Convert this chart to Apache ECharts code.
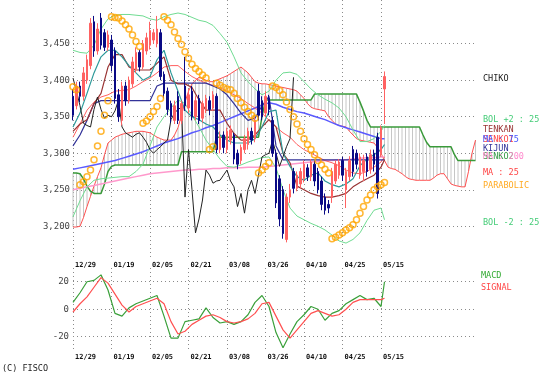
<!DOCTYPE html>
<html><head><meta charset="utf-8">
<script src="https://cdn.jsdelivr.net/npm/echarts@6/dist/echarts.min.js"></script>
<style>html,body{margin:0;padding:0;background:#fff}#c{width:554px;height:382px}</style>
</head><body><div id="c"></div>
<script>
// ---------- DATA ----------
const dateLabels = ['12/29','01/19','02/05','02/21','03/08','03/26','04/10','04/25','05/15'];
const priceTicks = [3200,3250,3300,3350,3400,3450];
const macdTicks = [-20,0,20];

const opens  = [3378,3365,3392,3378,3400,3420,3480,3440,3485,3465,3445,3455,3440,3380,3345,3392,3372,3395,3415,3438,3418,3440,3448,3455,3450,3465,3408,3385,3368,3345,
                3378,3345,3392,3362,3385,3350,3375,3348,3360,3372,3362,3378,3305,3325,3305,3318,3325,3300,3290,3305,3312,3330,3320,3385,3372,3355,3375,3345,3300,3265,
                3250,3182,3240,3275,3252,3258,3265,3280,3268,3285,3275,3262,3240,3230,3240,3262,3270,3290,3250,3268,3305,3300,3270,3275,3295,3278,3300,3322,3300,3388];
const closes = [3352,3392,3378,3410,3428,3478,3440,3470,3448,3445,3462,3420,3375,3350,3392,3372,3400,3425,3438,3418,3450,3458,3468,3465,3470,3405,3382,3360,3350,3365,
                3345,3368,3365,3380,3350,3372,3345,3368,3375,3360,3380,3305,3322,3308,3330,3332,3292,3285,3308,3320,3330,3318,3345,3352,3350,3378,3360,3300,3232,3210,
                3190,3240,3250,3252,3270,3275,3285,3268,3288,3262,3250,3230,3222,3225,3275,3285,3288,3270,3275,3290,3275,3285,3295,3290,3275,3298,3285,3245,3335,3405];
const lows   = [3345,3360,3370,3372,3395,3415,3432,3435,3442,3440,3440,3412,3368,3343,3338,3365,3368,3390,3410,3412,3415,3435,3442,3450,3445,3400,3375,3352,3342,3340,
                3340,3340,3358,3355,3345,3345,3340,3342,3355,3352,3358,3300,3300,3300,3300,3312,3285,3278,3285,3300,3305,3312,3315,3345,3345,3350,3352,3295,3225,3200,
                3183,3178,3232,3245,3248,3252,3260,3262,3262,3255,3245,3222,3216,3218,3232,3258,3265,3262,3225,3262,3268,3278,3265,3262,3268,3272,3275,3238,3295,3340];
const highs  = [3388,3398,3398,3418,3435,3485,3488,3478,3492,3470,3468,3462,3445,3388,3398,3398,3405,3432,3445,3442,3455,3465,3480,3470,3488,3470,3412,3390,3372,3372,
                3385,3372,3432,3388,3392,3378,3380,3372,3380,3378,3385,3382,3330,3330,3335,3338,3328,3305,3312,3325,3335,3335,3350,3395,3378,3385,3380,3350,3305,3270,
                3255,3245,3258,3280,3275,3280,3290,3285,3292,3290,3280,3268,3245,3236,3280,3290,3292,3295,3280,3296,3310,3305,3300,3298,3300,3305,3305,3328,3338,3412];

// Ichimoku cloud spans (incl. 26 future bars)
const senko1 = [3199,3199,3200,3212,3227,3241,3255,3268,3280,3298,
  3314,3318,3322,3324,3326,3327,3328,3329,3330,3330,
  3330,3329,3328,3325,3322,3320,3318,3318,3318,3325,
  3335,3352,3370,3385,3395,3400,3404,3402,3400,3398,
  3398,3400,3402,3404,3406,3409,3412,3415,3418,3414,
  3410,3404,3398,3396,3395,3395,3394,3393,3392,3391,
  3390,3389,3388,3387,3385,3380,3375,3368,3363,3361,
  3360,3359,3358,3350,3345,3340,3338,3337,3336,3330,
  3325,3320,3318,3317,3316,3315,3314,3308,3300,3290,
  3281,3279,3278,3275,3272,3268,3265,3264,3263,3263,
  3263,3263,3263,3266,3270,3272,3272,3265,3258,3256,
  3255,3254,3254,3275,3300,3318];
const senko2 = [3273,3273,3272,3265,3255,3248,3245,3245,3245,3258,
  3275,3282,3284,3284,3284,3284,3284,3284,3284,3284,
  3284,3284,3284,3284,3284,3284,3284,3284,3284,3284,
  3284,3302,3302,3302,3302,3302,3302,3302,3302,3302,
  3302,3322,3322,3322,3322,3322,3322,3322,3322,3322,
  3322,3322,3322,3322,3350,3373,3373,3373,3373,3373,
  3373,3373,3373,3373,3373,3373,3373,3373,3373,3381,
  3381,3381,3381,3381,3381,3381,3381,3381,3381,3381,
  3381,3381,3370,3358,3345,3336,3336,3336,3336,3336,
  3336,3336,3336,3336,3336,3336,3336,3336,3336,3336,
  3325,3315,3309,3309,3309,3309,3309,3309,3309,3298,
  3290,3290,3290,3290,3290,3290];

// line values read at bars 0,2,4,...,88 and 89
const bolUp = [3441,3438,3437,3448,3470,3484,3489,3490,3490,3489, 3488,3484,3482,3487,3490,3492,3490,3486,3482,3480,
               3475,3464,3452,3432,3410,3398,3388,3380,3385,3400, 3410,3411,3408,3398,3388,3380,3374,3369,3362,3350, 3332,3316,3316,3320,3330, 3338];
const bolDn = [3213,3235,3254,3263,3265,3266,3267,3268,3268,3275, 3285,3310,3336,3350,3362,3373,3368,3352,3336,3318,
               3305,3292,3282,3281,3284,3288,3291,3294,3295,3280, 3250,3225,3214,3209,3204,3200,3195,3188,3180,3177, 3182,3191,3208,3222,3225, 3209];
const ma25  = [3322,3340,3359,3370,3377,3380,3385,3386,3387,3392, 3398,3403,3410,3418,3420,3420,3412,3405,3400,3396,
               3393,3390,3385,3380,3375,3368,3362,3355,3345,3336, 3328,3322,3312,3305,3300,3295,3290,3287,3283,3277, 3273,3272,3275,3281,3288, 3295];
const ma75  = [3278,3280,3282,3284,3286,3288,3290,3293,3296,3299, 3302,3306,3310,3314,3317,3320,3324,3328,3331,3335,
               3338,3342,3346,3350,3354,3358,3362,3366,3369,3367, 3363,3360,3357,3355,3352,3349,3346,3342,3338,3335, 3332,3329,3326,3323,3320, 3320];
const ma200 = [3250,3252,3254,3256,3258,3260,3262,3264,3266,3268, 3270,3272,3273,3274,3275,3276,3277,3277,3278,3278,
               3279,3279,3280,3280,3280,3281,3281,3281,3282,3283, 3284,3285,3286,3287,3288,3289,3290,3290,3291,3291, 3292,3293,3294,3294,3295, 3295];
const tenkan = [3330,3340,3346,3368,3382,3418,3435,3435,3418,3414, 3414,3414,3423,3432,3400,3395,3395,3390,3373,3359,
                3359,3359,3341,3327,3318,3318,3325,3336,3346,3336, 3300,3287,3255,3250,3245,3242,3240,3240,3242,3245, 3254,3260,3265,3270,3281, 3291];
const kijun = [3310,3325,3345,3368,3372,3372,3372,3372,3372,3372, 3372,3372,3392,3396,3396,3396,3396,3396,3396,3396,
               3392,3388,3380,3368,3355,3345,3348,3365,3378,3310, 3291,3291,3291,3291,3291,3291,3291,3291,3291,3291, 3291,3291,3291,3291,3291, 3291];
const tealLine = [3336,3355,3382,3410,3432,3441,3441,3432,3420,3410, 3400,3405,3428,3441,3410,3385,3359,3350,3346,3340,
                  3336,3325,3318,3314,3314,3314,3320,3336,3357,3359, 3300,3282,3268,3263,3270,3273,3262,3257,3254,3258, 3265,3283,3292,3298,3305, 3312];
const macd   = [5,12,20,21,25,14,-3,-5,1,4, 6,8,10,-5,-21,-21,-9,-8,-7,1,
                -6,-10,-9,-11,-9,-4,5,10,2,-17, -28,-18,-9,-4,2,0,-8,-3,-1,4, 7,10,7,8,2, 20];
const signal = [-2,4,9,16,23,19,11,3,-2,2, 4,6,8,4,-9,-18,-16,-11,-8,-5,
                -4,-6,-9,-10,-9,-7,-3,4,5,-5, -15,-21,-15,-9,-3,-1,-3,-5,-4,0, 5,7,7,7,7, 8];

// lagging span (bars 0..63)
const chiko = [3403,3385,3365,3341,3338,3336,3360,3377,3360,3348,
  3352,3350,3358,3373,3336,3328,3325,3322,3326,3328,
  3322,3315,3305,3300,3305,3309,3314,3318,3346,3355,
  3360,3363,3240,3305,3250,3191,3210,3236,3277,3270,
  3259,3262,3263,3270,3277,3262,3254,3227,3245,3218,
  3250,3263,3245,3270,3295,3298,3300,3318,3300,3282,
  3295,3309,3320,3404];

// parabolic SAR (bars 0..89)
const sar = [3391,3387,3257,3261,3268,3277,3291,3310,3330,3352,
  3372,3487,3486,3485,3481,3476,3470,3462,3453,3446,
  3341,3344,3350,3357,3364,3375,3487,3482,3476,3466,
  3457,3449,3439,3430,3422,3416,3412,3407,3403,3305,
  3309,3396,3393,3390,3388,3387,3382,3375,3369,3363,
  3357,3352,3348,3273,3277,3282,3287,3392,3390,3386,
  3380,3370,3360,3350,3340,3330,3320,3312,3305,3298,
  3290,3284,3278,3273,3183,3185,3188,3191,3195,3198,
  3202,3209,3218,3227,3236,3243,3250,3254,3257,3260];

// ---------- BUILD ----------
const N = senko1.length;            // bars incl. future cloud
const cats = Array.from({length: N}, (_, i) => String(i));
const lineIdx = Array.from({length: 45}, (_, k) => 2 * k).concat([89]);
const pairs = vals => vals.map((v, k) => [lineIdx[k], v]);
const showTick = idx => idx % 11 === 0 && idx / 11 < dateLabels.length;
const fmtDate = (v, idx) => showTick(idx) ? dateLabels[idx / 11] : '';
const fmtPrice = v => String(v).replace(/\B(?=(\d{3})+(?!\d))/g, ',');
const gridLine = {show: true, lineStyle: {type: [1, 3], color: '#8a8a8a', width: 1}};
const MONO = 'DejaVu Sans Mono';

function xAx(gi) {
  return {type: 'category', gridIndex: gi, data: cats, boundaryGap: false,
    axisLine: {show: false}, axisTick: {show: false},
    axisLabel: {interval: showTick, formatter: fmtDate, align: 'left', margin: gi === 0 ? 4 : 2,
      padding: [0, 0, 0, 2], fontSize: 7, fontWeight: 'bold', fontFamily: MONO, color: '#111'},
    splitLine: Object.assign({interval: showTick}, gridLine)};
}
function yAx(gi, min, max, ticks, fmt, fs, margin) {
  return {type: 'value', gridIndex: gi, min: min, max: max,
    axisLine: {show: false}, axisTick: {show: false, customValues: ticks},
    axisLabel: {customValues: ticks, formatter: fmt, fontSize: fs, fontFamily: MONO, color: '#444', margin: margin},
    splitLine: gridLine};
}
function ln(name, data, color, width, extra) {
  return Object.assign({name: name, type: 'line', data: data, symbol: 'none', showSymbol: false,
    lineStyle: {color: color, width: width}, itemStyle: {color: color}, z: 3, silent: true}, extra || {});
}

const cloudData = senko1.map((v, i) => [i, v, senko2[i]]);
const candleData = opens.map((o, i) => [o, closes[i], lows[i], highs[i]]);

const txt = (t, x, y, c) => ({type: 'text', x: x, y: y, silent: true,
  style: {text: t, fill: c, font: '8.5px "' + MONO + '"', verticalAlign: 'middle', align: 'left'}});

const option = {
  animation: false,
  backgroundColor: '#fff',
  grid: [
    {left: 73, top: 0, width: 402.5, height: 258},
    {left: 73, top: 268, width: 402.5, height: 84}
  ],
  xAxis: [xAx(0), xAx(1)],
  yAxis: [
    yAx(0, 3156.6, 3509.8, priceTicks, fmtPrice, 9, 3),
    yAx(1, -31.1, 30, macdTicks, v => String(v), 9, 4)
  ],
  series: [
    {name: 'cloud', type: 'custom', data: cloudData, z: 1, silent: true,
      encode: {x: 0, y: [1, 2]},
      renderItem: function (params, api) {
        const a = api.coord([api.value(0), api.value(1)]);
        const b = api.coord([api.value(0), api.value(2)]);
        return {type: 'line', shape: {x1: a[0], y1: a[1], x2: b[0], y2: b[1]},
          style: {stroke: '#c6c6c6', lineWidth: 1}};
      }},
    ln('SENKO1', senko1, '#ff5050', 1),
    ln('SENKO2', senko2, '#3a9a3a', 1.5),
    ln('MA200', pairs(ma200), '#ff99cc', 1.5),
    ln('MA75', pairs(ma75), '#5a5aff', 1.5),
    ln('BOL+2', pairs(bolUp), '#70dc92', 1),
    ln('BOL-2', pairs(bolDn), '#70dc92', 1),
    ln('MA25', pairs(ma25), '#ff6060', 1),
    ln('KIJUN', pairs(kijun), '#333399', 1.2),
    ln('TENKAN', pairs(tenkan), '#993333', 1.2),
    ln('TEAL', pairs(tealLine), '#2e9a9a', 1.2),
    ln('CHIKO', chiko.map((v, i) => [i, v]), '#222222', 1),
    {name: 'price', type: 'candlestick', data: candleData, barWidth: 1.6, clip: false, z: 5, silent: true,
      itemStyle: {color: '#ff6262', color0: '#0a0a85', borderColor: '#ff6262', borderColor0: '#0a0a85', borderWidth: 1}},
    {name: 'PARABOLIC', type: 'scatter', data: sar.map((v, i) => [i, v]), symbol: 'circle', symbolSize: 6, z: 6, silent: true,
      itemStyle: {color: 'rgba(0,0,0,0)', borderColor: '#ffa500', borderWidth: 1.5}},
    ln('MACD', pairs(macd), '#3aa03a', 1.2, {xAxisIndex: 1, yAxisIndex: 1}),
    ln('SIGNAL', pairs(signal), '#ff5050', 1.2, {xAxisIndex: 1, yAxisIndex: 1})
  ],
  graphic: [
    txt('CHIKO', 483, 79, '#222'),
    txt('BOL +2 : 25', 483, 120, '#44cc77'),
    txt('TENKAN', 483, 130, '#993333'),
    txt('SENKO1', 483, 140, '#ff4444'),
    txt('MA : 75', 483, 140, '#4455ff'),
    txt('KIJUN', 483, 149, '#333399'),
    txt('SENKO2', 483, 157, '#339944'),
    txt('MA : 200', 483, 157, '#ff88cc'),
    txt('MA : 25', 483, 173, '#ff4444'),
    txt('PARABOLIC', 483, 186, '#ffaa22'),
    txt('BOL -2 : 25', 483, 223, '#44cc77'),
    txt('MACD', 481, 276, '#33aa33'),
    txt('SIGNAL', 481, 288, '#ff4444'),
    txt('(C) FISCO', 2, 369, '#222')
  ]
};
const chart = echarts.init(document.getElementById('c'));
chart.setOption(option);
</script></body></html>
